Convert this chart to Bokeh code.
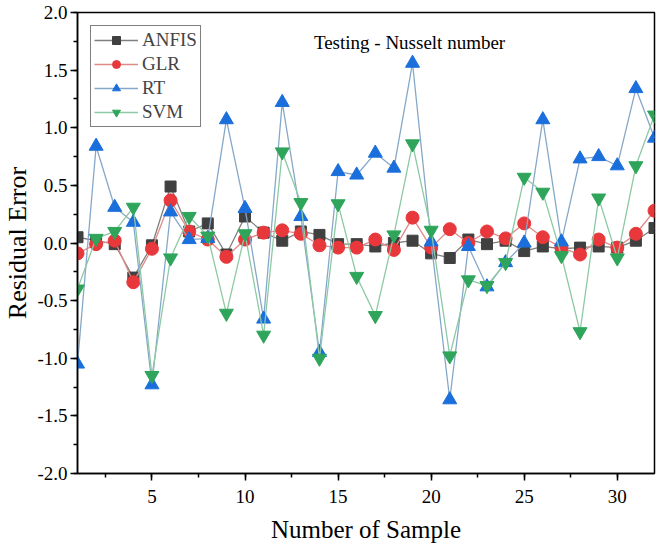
from bokeh.plotting import figure
from bokeh.models import SingleIntervalTicker, NumeralTickFormatter, Label, Range1d
from bokeh.embed import file_html
from bokeh.resources import INLINE

samples = list(range(1, 33))
anfis = [0.05, 0.02, -0.01, -0.30, -0.02, 0.49, 0.10, 0.17, -0.10, 0.23, 0.09, 0.02, 0.10, 0.07,
         -0.01, -0.01, -0.03, 0.00, 0.02, -0.09, -0.13, 0.03, -0.01, 0.02, -0.07, -0.03,
         -0.05, -0.04, -0.03, -0.04, 0.02, 0.13]
glr = [-0.09, -0.01, 0.02, -0.34, -0.05, 0.37, 0.10, 0.03, -0.12, 0.03, 0.09, 0.11, 0.08, -0.02,
       -0.04, -0.04, 0.03, -0.06, 0.22, -0.04, 0.12, 0.00, 0.10, 0.04, 0.17, 0.05,
       -0.04, -0.10, 0.03, -0.04, 0.08, 0.28]
rt = [-1.05, 0.84, 0.31, 0.18, -1.23, 0.27, 0.03, 0.04, 1.07, 0.30, -0.66, 1.22, 0.23, -0.95,
      0.62, 0.59, 0.78, 0.65, 1.56, 0.01, -1.36, -0.03, -0.38, -0.17, 0.00, 1.07,
      0.01, 0.73, 0.75, 0.67, 1.34, 0.91]
svm = [-0.40, 0.04, 0.10, 0.31, -1.15, -0.13, 0.23, 0.06, -0.61, 0.08, -0.80, 0.79, 0.35, -1.00,
       0.34, -0.29, -0.63, 0.07, 0.86, 0.11, -0.98, -0.32, -0.37, -0.17, 0.57, 0.44,
       -0.11, -0.77, 0.39, -0.13, 0.67, 1.11]

FONT = "Liberation Serif"

p = figure(output_backend="svg", toolbar_location=None,
           x_range=Range1d(1, 32), y_range=Range1d(-2, 2),
           min_border_left=68, min_border_top=12, min_border_right=4, min_border_bottom=64,
           frame_width=577, frame_height=461)
p.grid.visible = False
p.outline_line_color = "black"
p.outline_line_width = 1.5
p.background_fill_color = "white"

series = [
    ("ANFIS", anfis, "#404040", "#808080", "square", 11),
    ("GLR", glr, "#e8383b", "#e08a8a", "circle", 13),
    ("RT", rt, "#1a6fdc", "#86a8c8", "triangle", 14),
    ("SVM", svm, "#2ea55a", "#8cc9a4", "inverted_triangle", 14),
]
for name, ys, mc, lc, mk, sz in series:
    p.line(samples, ys, line_color=lc, line_width=1.3, legend_label=name)
    p.scatter(samples, ys, marker=mk, size=sz, fill_color=mc, line_color=mc, legend_label=name)

p.xaxis.ticker = SingleIntervalTicker(interval=5, num_minor_ticks=2)
p.yaxis.ticker = SingleIntervalTicker(interval=0.5, num_minor_ticks=2)
p.yaxis.formatter = NumeralTickFormatter(format="0.0")
for ax in (p.xaxis, p.yaxis):
    ax.axis_line_color = "black"
    ax.axis_line_width = 1.5
    ax.major_tick_line_width = 1.5
    ax.minor_tick_line_width = 1.5
    ax.major_tick_in = 0
    ax.major_tick_out = 7
    ax.minor_tick_in = 0
    ax.minor_tick_out = 4
    ax.major_label_text_font = FONT
    ax.major_label_text_font_size = "19px"
    ax.major_label_text_color = "black"
    ax.axis_label_text_font = FONT
    ax.axis_label_text_font_style = "normal"
    ax.axis_label_text_color = "black"
p.xaxis.axis_label = "Number of Sample"
p.yaxis.axis_label = "Residual Error"
p.xaxis.axis_label_text_font_size = "25px"
p.yaxis.axis_label_text_font_size = "26px"
p.yaxis.major_label_standoff = 3
p.yaxis.axis_label_standoff = 2
p.xaxis.major_label_standoff = 9
p.xaxis.axis_label_standoff = 10

p.add_layout(Label(x=13.7, y=1.74, text="Testing - Nusselt number", text_font=FONT,
                   text_font_size="19px", text_baseline="middle", text_color="black"))

lg = p.legend[0]
lg.location = "top_left"
lg.margin = 13
lg.padding = 3
lg.spacing = 2
lg.border_line_color = "black"
lg.border_line_width = 1
lg.label_text_font = FONT
lg.label_text_font_size = "19px"
lg.glyph_width = 44
lg.label_standoff = 4
lg.background_fill_alpha = 1

open("out.html", "w").write(file_html(p, INLINE))
